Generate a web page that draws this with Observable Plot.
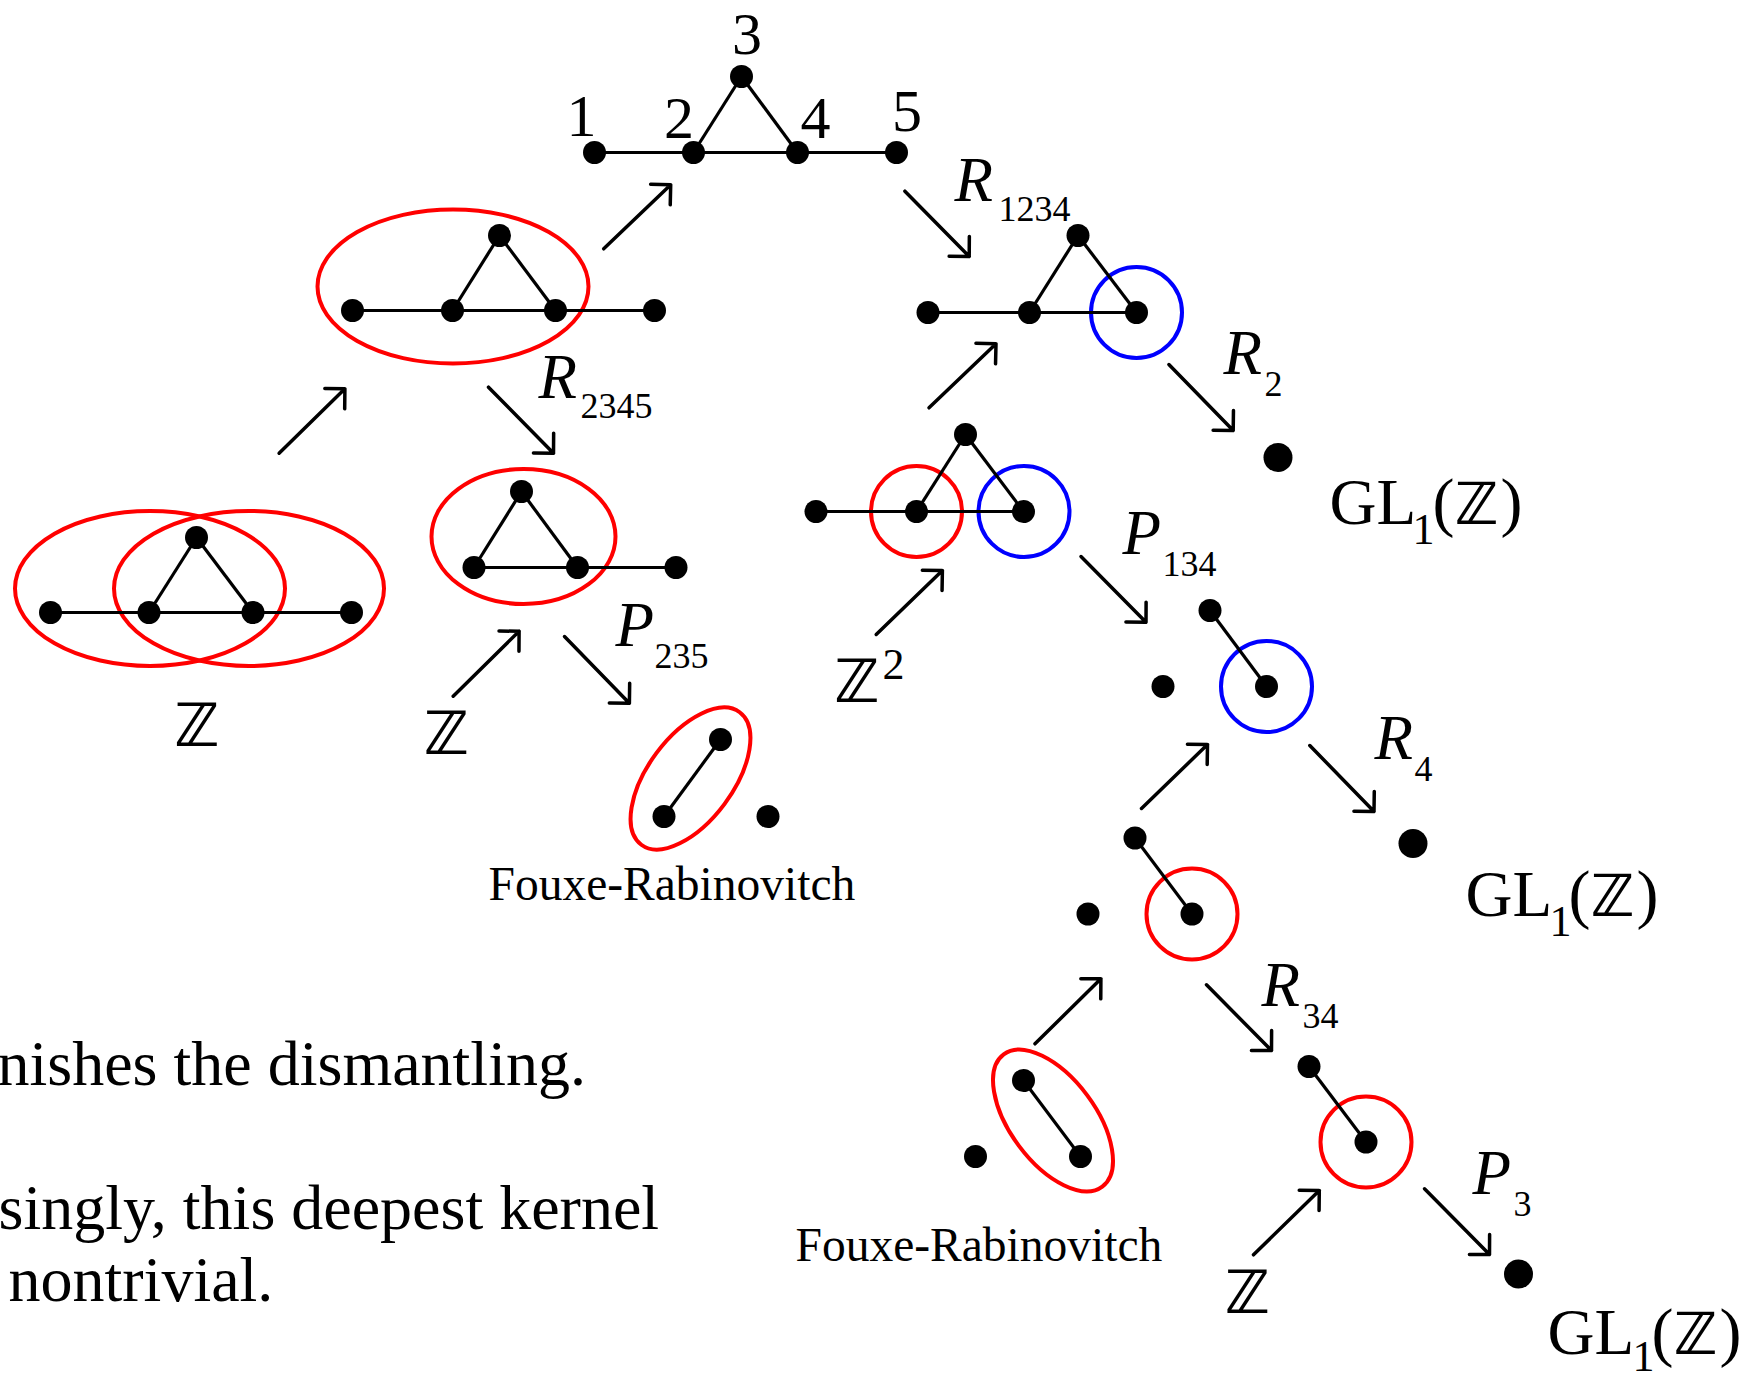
<!DOCTYPE html>
<html><head><meta charset="utf-8">
<script src="https://cdn.jsdelivr.net/npm/d3@7"></script>
<script src="https://cdn.jsdelivr.net/npm/@observablehq/plot@0.6"></script>
<style>html,body{margin:0;padding:0;background:#fff;overflow:hidden}</style>
</head><body><div id="chart"></div>
<script>
// ---- data (diagram coordinates in a 1764 x 1375 frame) ----
const nodes = [
  ["a1",594,152],["a2",693,152],["a3",741,76],["a4",797,152],["a5",896,152],
  ["b1",352,310],["b2",452,310],["b3",499,235],["b4",555,310],["b5",654,310],
  ["c1",50,612],["c2",148.5,612],["c3",196,537],["c4",252.5,612],["c5",351,612],
  ["d2",473.5,567],["d3",521,491],["d4",577,567],["d5",675.5,567],
  ["e1",663.5,816],["e2",720,739],["e3",767.5,816],
  ["f1",927.5,312],["f2",1029,312],["f3",1077.5,235],["f4",1136,312],
  ["g1",815.5,511],["g2",916,511],["g3",965,434],["g4",1023,511],
  ["i1",1162.5,686],["i2",1209.5,610],["i3",1266,686],
  ["j1",1087.5,913.5],["j2",1134.5,837.5],["j3",1191.5,913.5],
  ["l1",975,1156],["l2",1023,1080],["l3",1080,1156],
  ["m1",1308.5,1066],["m2",1365.5,1141.5]
];
const terminals = [[1277.5,457],[1412.5,843],[1518,1273.5]];
const edges = [
  ["a1","a2"],["a2","a4"],["a4","a5"],["a2","a3"],["a3","a4"],
  ["b1","b2"],["b2","b4"],["b4","b5"],["b2","b3"],["b3","b4"],
  ["c1","c2"],["c2","c4"],["c4","c5"],["c2","c3"],["c3","c4"],
  ["d2","d4"],["d4","d5"],["d2","d3"],["d3","d4"],
  ["e1","e2"],
  ["f1","f2"],["f2","f4"],["f2","f3"],["f3","f4"],
  ["g1","g2"],["g2","g4"],["g2","g3"],["g3","g4"],
  ["i2","i3"],["j2","j3"],["l2","l3"],["m1","m2"]
];
// ellipses: cx, cy, rx, ry, rotation (deg)
const redEllipses = [
  [453,286.5,135.5,77,0],
  [150,588.5,135,77.5,0],
  [249,588.5,135,77.5,0],
  [523.5,536.5,92,67.5,0],
  [690.5,778.5,82.5,42.5,-53.4],
  [1053,1120.5,82.5,42.5,53.3]
];
const redCircles = [[916,511],[1191.5,913.5],[1365.5,1141.5]];
const blueCircles = [[1136,312],[1023.5,511],[1266,686]];
const arrows = [
  [278.6,452.7,344.4,388.3],[488,386.7,553,452.7],[603.2,248.3,670.2,184.3],
  [904.4,190.7,968.7,256],[928.5,407.3,995.5,343.3],[1168.4,364,1232.7,430],
  [452.7,695.7,518.6,630.7],[564,636,628.9,702.7],[875.7,634,941.9,570],
  [1080.5,556,1145.5,621.7],[1141,808,1207,744],[1309.3,745,1373.5,811],
  [1034.5,1043.3,1100.4,978.3],[1206,984.3,1271,1050],[1253,1254.3,1318.8,1190],
  [1424,1188.3,1489,1254]
];
const nodeNumbers = [["1",581,135],["2",678.5,137],["3",746.5,53],["4",815,137],["5",906.5,130]];
const opLetters = [["R",954,200],["R",538,397],["R",1223,373],["P",1122,553],["P",615,645],["R",1374,758],["R",1261,1005],["P",1472,1193]];
const opSubs = [["1234",998,220],["2345",580,417],["2",1264,395],["134",1162,575],["235",654,667],["4",1414,780],["34",1302,1027],["3",1513,1215]];
const zLabels = [["ℤ",196,745],["ℤ",445.5,753],["ℤ",856,701],["ℤ",1246.5,1312]];
const zSup = [["2",882,678]];
const glMain = [["GL",1329,523],["GL",1465,915],["GL",1547,1353]];
const glSub = [["1",1412,543],["1",1549,935],["1",1632,1370]];
const glOpen = [["(",1432,523],["(",1568,915],["(",1651,1353]];
const glZ = [["ℤ",1476,523],["ℤ",1612,915],["ℤ",1695,1353]];
const glClose = [[")",1500,523],[")",1636,915],[")",1719,1353]];
const fouxe = [["Fouxe-Rabinovitch",488,899],["Fouxe-Rabinovitch",795,1260]];
const paragraph = [["nishes the dismantling.",-3,1084],["singly, this deepest kernel",-2,1228],["nontrivial.",8,1300.5]];

// ---- build ----
const pos = new Map(nodes.map(([id,x,y]) => [id,{x,y}]));
const links = edges.map(([a,b]) => ({x1:pos.get(a).x,y1:pos.get(a).y,x2:pos.get(b).x,y2:pos.get(b).y}));
const serif = "Liberation Serif, Times New Roman, DejaVu Serif, serif";
const zfont = "DejaVu Serif, DejaVu Sans, serif";

const ellipseMark = (data, color) => (index, scales) => {
  const g = d3.create("svg:g");
  g.selectAll("ellipse").data(data).join("ellipse")
    .attr("cx", d => scales.x(d[0]))
    .attr("cy", d => scales.y(d[1]))
    .attr("rx", d => Math.abs(scales.x(d[0] + d[2]) - scales.x(d[0])))
    .attr("ry", d => Math.abs(scales.y(d[1] + d[3]) - scales.y(d[1])))
    .attr("transform", d => `rotate(${d[4]},${scales.x(d[0])},${scales.y(d[1])})`)
    .attr("fill", "none").attr("stroke", color).attr("stroke-width", 4);
  return g.node();
};

const txt = (data, opts) => Plot.text(data, {x: d => d[1], y: d => d[2], text: d => d[0],
  textAnchor: "start", lineAnchor: "bottom", fill: "black", fontFamily: serif, ...opts});

const chart = Plot.plot({
  width: 1764, height: 1375, margin: 0,
  x: {domain: [0, 1764], range: [0, 1764], axis: null},
  y: {domain: [0, 1375], range: [0, 1375], axis: null},
  style: {background: "white"},
  marks: [
    ellipseMark(redEllipses, "#ff0000"),
    Plot.dot(redCircles, {x: d => d[0], y: d => d[1], r: 45.5, stroke: "#ff0000", strokeWidth: 4, fill: "none"}),
    Plot.dot(blueCircles, {x: d => d[0], y: d => d[1], r: 45.5, stroke: "#0000ff", strokeWidth: 4, fill: "none"}),
    Plot.link(links, {x1: "x1", y1: "y1", x2: "x2", y2: "y2", stroke: "black", strokeWidth: 3.2}),
    Plot.dot(nodes, {x: d => d[1], y: d => d[2], r: 11.5, fill: "black", stroke: "none"}),
    Plot.dot(terminals, {x: d => d[0], y: d => d[1], r: 14.5, fill: "black", stroke: "none"}),
    Plot.arrow(arrows, {x1: d => d[0], y1: d => d[1], x2: d => d[2], y2: d => d[3],
      stroke: "black", strokeWidth: 3.5, headAngle: 90, headLength: 8.6}),
    txt(nodeNumbers, {fontSize: 60, textAnchor: "middle"}),
    txt(opLetters, {fontSize: 63, fontStyle: "italic"}),
    txt(opSubs, {fontSize: 36}),
    txt(zLabels, {fontSize: 60, fontWeight: "bold", fontFamily: zfont, textAnchor: "middle"}),
    txt(zSup, {fontSize: 44}),
    txt(glMain, {fontSize: 65}),
    txt(glSub, {fontSize: 44}),
    txt(glOpen, {fontSize: 66}),
    txt(glZ, {fontSize: 58, fontWeight: "bold", fontFamily: zfont, textAnchor: "middle"}),
    txt(glClose, {fontSize: 66}),
    txt(fouxe, {fontSize: 47.5}),
    txt(paragraph, {fontSize: 64})
  ]
});
document.getElementById("chart").append(chart);
</script>
</body></html>
